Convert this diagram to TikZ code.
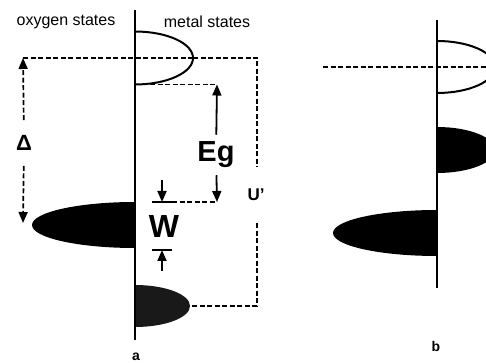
\documentclass[tikz,border=0pt]{standalone}
\usepackage{fontspec}
\setmainfont{Liberation Sans}
\usetikzlibrary{arrows.meta}
\tikzset{
  axis/.style={line width=2pt},
  openband/.style={line width=2pt, fill=white},
  level/.style={dash pattern=on 5pt off 2.5pt, line width=1.7pt},
  tip/.style={-{Triangle[length=11pt,width=9pt]}},
  lbl/.style={font=\fontsize{16}{18}\selectfont, inner sep=0pt},
  big/.style={font=\fontsize{29}{31}\selectfont\bfseries, inner sep=0pt},
}
\begin{document}
\begin{tikzpicture}[x=1pt,y=1pt]
  \useasboundingbox (0,0) rectangle (486,363);
  \clip (0,0) rectangle (486,363);

  % panel a
  \coordinate (uhb) at (193,305);
  \coordinate (uhbbot) at (135,278.5);
  \coordinate (dtop) at (23,305);
  \coordinate (dbot) at (23,140);
  \coordinate (egtop) at (217,278.5);
  \coordinate (egbot) at (217,161);
  \coordinate (ur) at (257,305);
  \coordinate (lhb) at (190,57);
  \coordinate (wtop) at (162,161);
  \coordinate (wbot) at (162,113);

  \fill (135,161) arc[start angle=90,end angle=270,x radius=103,y radius=23] -- cycle;
  \fill[black!90] (135,78) arc[start angle=90,end angle=-90,x radius=55,y radius=21] -- cycle;
  \draw[openband] (135,331.5) arc[start angle=90,end angle=-90,x radius=58,y radius=26.5];
  \draw[axis] (135,353) -- (135,23);

  \node[lbl] (oxy) at (66,341) {oxygen states};
  \node[lbl] (met) at (207,341) {metal states};
  \node[font=\fontsize{22}{24}\selectfont\bfseries, inner xsep=0pt, inner ysep=15pt] (delta) at (24,220) {Δ};
  \node[big, inner ysep=7pt] (eg) at (216,208) {Eg};
  \node[big, font=\fontsize{32}{34}\selectfont\bfseries] (w) at (164,137) {W};
  \node[lbl, font=\fontsize{17}{19}\selectfont\bfseries, inner ysep=22pt] (uprime) at (256,168) {U'};
  \node[font=\fontsize{14}{16}\selectfont\bfseries] (la) at (136,6) {a};

  \draw[level] (uhb) -- (dtop);
  \draw[level,tip] (delta) -- (dtop);
  \draw[level,tip] (delta) -- (dbot);
  \draw[level] (uhbbot) -- (egtop);
  \draw[line width=1.8pt,tip] (eg) -- (egtop);
  \draw[line width=1.8pt,tip] (eg) -- (egbot);
  \draw[level] (uhb) -- (ur) -- (ur |- uprime.north);
  \draw[level] (ur |- uprime.south) |- (lhb);
  \draw[level] (172,161) -- (egbot);
  \draw[line width=1.8pt] (152,161) -- (172,161);
  \draw[line width=1.8pt] (152,113) -- (172,113);
  \draw[line width=1.8pt,tip] (162,183) -- (wtop);
  \draw[line width=1.8pt,tip] (162,92) -- (wbot);

  % panel b
  \fill (437,153) arc[start angle=90,end angle=270,x radius=104,y radius=23] -- cycle;
  \fill (437,236) arc[start angle=90,end angle=-90,x radius=58,y radius=23] -- cycle;
  \draw[openband] (437,322) arc[start angle=90,end angle=-90,x radius=58,y radius=26];
  \draw[axis] (437,343) -- (437,75);
  \coordinate (bl) at (323,296);
  \coordinate (br) at (490,296);
  \draw[level] (bl) -- (br);
  \node[font=\fontsize{14}{16}\selectfont\bfseries] (lb) at (436,17) {b};
\end{tikzpicture}
\end{document}
